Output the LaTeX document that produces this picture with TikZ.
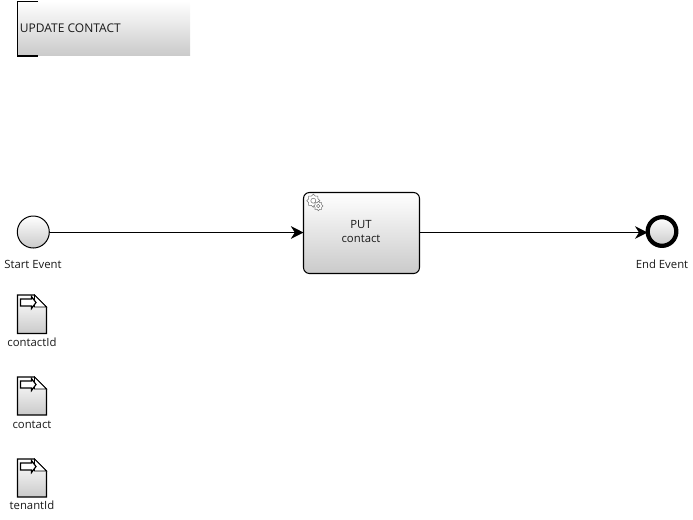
\documentclass[tikz,border=0pt]{standalone}
\usepackage{fontspec}
\setmainfont{Open Sans}
\usetikzlibrary{arrows.meta}
\definecolor{gradend}{HTML}{CACACA}
\tikzset{
  x=0.75pt,y=-0.75pt,
  every node/.style={font=\fontsize{8.5pt}{10.5pt}\selectfont,text=black!90,inner sep=0pt,outer sep=0pt},
  fill grad/.style={top color=white,bottom color=gradend},
  taskbox/.style={draw=black,line width=0.8pt,rounded corners=4.5pt,fill grad,minimum width=87pt,minimum height=60.75pt,align=center},
  startev/.style={circle,draw=black,line width=0.75pt,fill grad,minimum size=24pt},
  endev/.style={circle,draw=black,line width=3.2pt,fill grad,minimum size=21.5pt},
  flow/.style={draw=black,line width=0.8pt,-{Stealth[length=9.5pt,width=9.5pt,inset=3pt]}},
  poolband/.style={fill grad,minimum width=129.5pt,minimum height=41pt},
  bracket/.style={draw=black,line width=0.8pt},
  docshape/.style={draw=black,line width=0.8pt,fill grad,line join=miter},
  docline/.style={draw=black,line width=0.6pt},
  gearline/.style={draw=black!55,line width=0.4pt},
}
% name, top-left x, top y, bottom y
\newcommand{\dataobj}[4]{%
  \path[docshape] (#2,#3) -- (#2+17,#3) -- (#2+29,#3+12) -- (#2+29,#4) -- (#2,#4) -- cycle;
  \path[docline,fill=white] (#2+17,#3) -- (#2+17,#3+12) -- (#2+29,#3+12) -- cycle;
  \path[draw=black,line width=0.9pt,fill=white] (#2+3,#3+4) -- (#2+14,#3+4) -- (#2+14,#3+1.5) -- (#2+18.5,#3+7.5) -- (#2+14,#3+13.5) -- (#2+14,#3+11) -- (#2+3,#3+11) -- cycle;
  \coordinate (#1) at (#2+14.5,#4);
}
\newcommand{\geargl}[4]{% cx cy outer inner
  \draw[gearline,fill=white] plot[smooth cycle,tension=0.25,samples at={0,22.5,...,337.5}]
    ({#1+(mod(round(\x/22.5),2)==0 ? #3 : #4)*cos(\x)},{#2+(mod(round(\x/22.5),2)==0 ? #3 : #4)*sin(\x)});
  \draw[gearline] (#1,#2) circle[radius=#4*0.5];
}
\begin{document}
\begin{tikzpicture}
\useasboundingbox (0,0) rectangle (693,519);
% pool
\node[poolband,anchor=north west] (pool) at (17.5,1) {};
\node[anchor=west,font=\fontsize{9pt}{10.5pt}\selectfont] (poollabel) at (20,28) {UPDATE CONTACT};
\draw[bracket] (38,1.5) -- (17.5,1.5) -- (17.5,56) -- (38,56);
% events and task
\node[startev] (start) at (33.3,232) {};
\node[taskbox] (task) at (361.5,233) {};
\node[endev] (end) at (662,231.5) {};
\node[align=center] (tasklabel) at (361,232) {PUT\\contact};
\geargl{313.3}{200.7}{6.6}{5}
\geargl{318.3}{206}{4.7}{3.5}
% labels
\node (startlabel) at (33,264) {Start Event};
\node (endlabel) at (662,264) {End Event};
% flows
\draw[flow] (start.east |- 0,232.5) -- (task.west |- 0,232.5);
\draw[flow] (task.east |- 0,232.5) -- (end.west |- 0,232.5);
% data objects
\dataobj{d1}{17.5}{295}{333.5}
\dataobj{d2}{17.5}{377}{415}
\dataobj{d3}{17.5}{459}{497}
\node (d1label) at (32,342) {contactId};
\node (d2label) at (32,424.5) {contact};
\node (d3label) at (32,505) {tenantId};
\end{tikzpicture}
\end{document}
